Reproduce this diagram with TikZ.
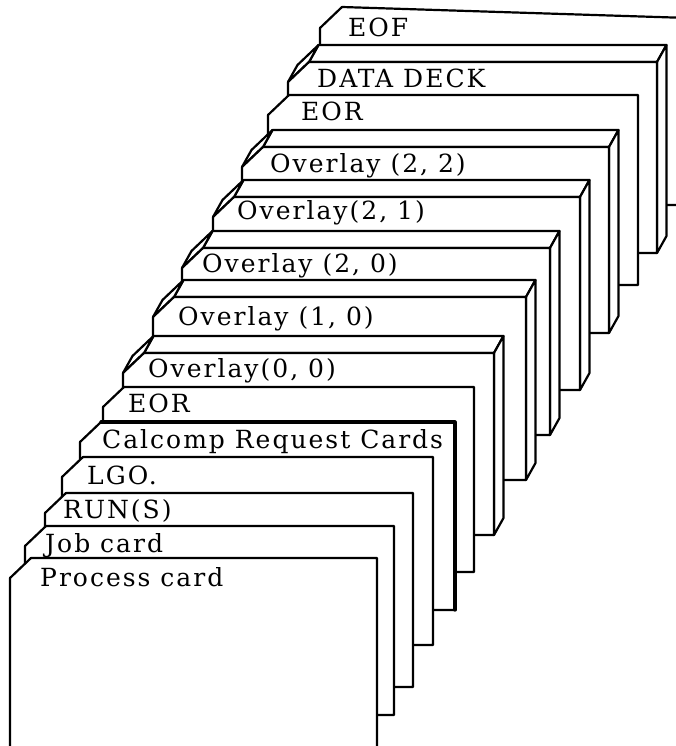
\documentclass[tikz,border=0pt]{standalone}
\usepackage{fontspec}
\newfontfamily\cardfont[LetterSpace=8]{DejaVu Serif}

\tikzset{
  card/.style={fill=white, draw=black, line width=2.2pt, line join=round},
  cardbold/.style={draw=black, line width=3.2pt, line cap=round, line join=round},
  cardtext/.style={anchor=base west, inner sep=0pt, font=\cardfont\fontsize{25}{27}\selectfont},
}

% A flat card: left, top, right, bottom (y grows downwards), clipped top-left corner
\newcommand\flatcard[4]{%
  \path[card] (#1,{#2+20}) -- ({#1+21},#2) -- (#3,#2) -- (#3,#4) -- (#1,#4) -- cycle;}

% A card with visible thickness on the top, the corner and the right side
\newcommand\thickcard[4]{%
  \path[card] ({#1+21},#2) -- (#3,#2) -- ({#3+9.5},{#2-17}) -- ({#1+30.5},{#2-17}) -- cycle;
  \path[card] (#1,{#2+20}) -- ({#1+21},#2) -- ({#1+30.5},{#2-17}) -- ({#1+9.5},{#2+3}) -- cycle;
  \path[card] (#3,#2) -- ({#3+9.5},{#2-17}) -- ({#3+9.5},{#4-17}) -- (#3,#4) -- cycle;
  \flatcard{#1}{#2}{#3}{#4}}

\begin{document}
\begin{tikzpicture}[x=1pt,y=-1pt]
\useasboundingbox (0,0) rectangle (676,746);
\fill[white] (0,0) rectangle (676,746);
\clip (0,0) rectangle (676,746);

% deck, from the last card to the first
\path[card] (320,28) -- (342,7) -- (720,19) -- (720,205) -- (320,205) -- cycle;
\thickcard{288}{62}{657}{253}
\flatcard{268}{95}{638}{285}
\thickcard{242}{147}{609}{333}
\thickcard{213}{197}{580}{390}
\thickcard{182}{248}{550}{435}
\thickcard{153}{297}{526}{480}
\thickcard{123}{353}{494}{535}
\flatcard{103}{387}{474}{572}
\flatcard{80}{422}{455}{610}
\draw[cardbold] (101,422) -- (455,422) -- (455,610);
\flatcard{62}{457}{433}{645}
\flatcard{45}{493}{413}{687}
\flatcard{25}{526}{394}{715}
\flatcard{10}{558}{377}{770}

% card labels
\node[cardtext] (eof)     at (348,37)  {EOF};
\node[cardtext] (data)    at (317,88)  {DATA DECK};
\node[cardtext] (eortop)  at (301,121) {EOR};
\node[cardtext] (ovtt)    at (270,172) {Overlay (2, 2)};
\node[cardtext] (ovto)    at (237,219) {Overlay(2, 1)};
\node[cardtext] (ovtz)    at (202,272) {Overlay (2, 0)};
\node[cardtext] (ovoz)    at (178,325) {Overlay (1, 0)};
\node[cardtext] (ovzz)    at (148,377) {Overlay(0, 0)};
\node[cardtext] (eorlow)  at (128,412) {EOR};
\node[cardtext] (calcomp) at (102,448) {Calcomp Request Cards};
\node[cardtext] (lgo)     at (87,484)  {LGO.};
\node[cardtext] (run)     at (63,518)  {RUN(S)};
\node[cardtext] (job)     at (45,552)  {Job card};
\node[cardtext] (process) at (40,586)  {Process card};
\end{tikzpicture}
\end{document}
